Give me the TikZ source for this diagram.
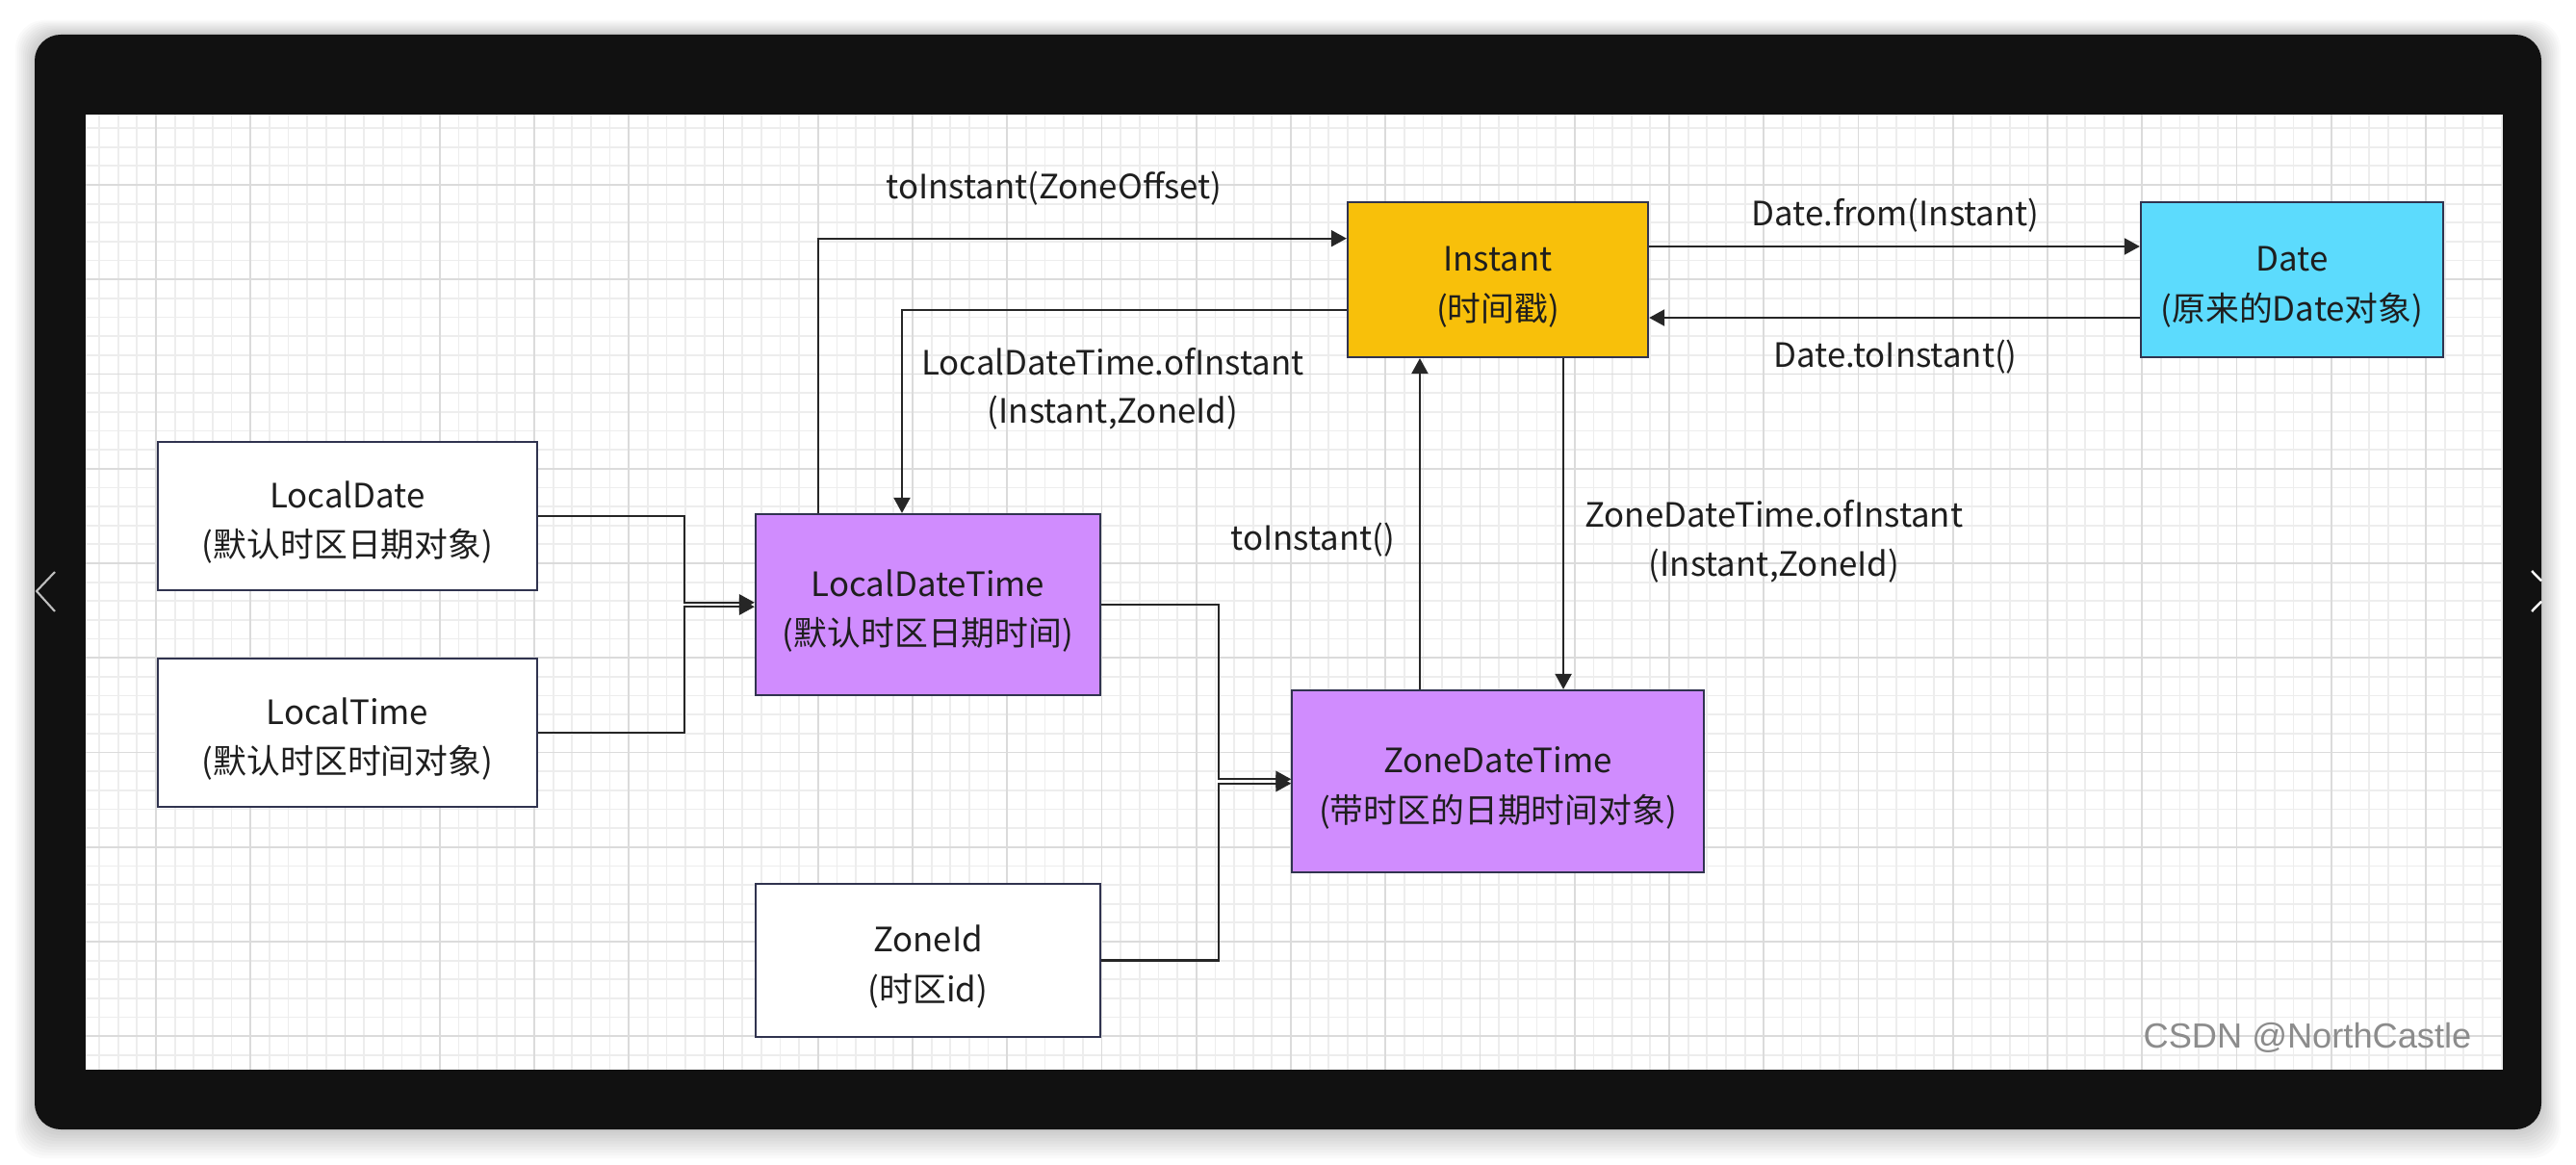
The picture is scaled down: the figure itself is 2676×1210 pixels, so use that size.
\documentclass[tikz,border=0pt]{standalone}
\usepackage{fontspec}
\usepackage{tikz}
\usetikzlibrary{arrows.meta}
\newfontfamily\cjk{Noto Sans CJK SC}
\newfontfamily\wmfont{Liberation Sans}
\definecolor{frameblack}{HTML}{111111}
\definecolor{boxline}{HTML}{30334F}
\definecolor{instfill}{HTML}{F8C00A}
\definecolor{datefill}{HTML}{5CDBFD}
\definecolor{ldtfill}{HTML}{D08CFE}
\definecolor{lineblack}{HTML}{262626}
\definecolor{textblack}{HTML}{1E1E1E}
\newcommand{\boxtop}{\rule{0pt}{11.6pt}}

\begin{document}
\begin{tikzpicture}[x=0.01cm, y=-0.01cm,
    box/.style={rectangle, draw=boxline, line width=0.6pt, fill=white, align=center, text=textblack, font=\cjk\fontsize{9.9}{14.6}\selectfont},
    lbl/.style={align=center, text=textblack, inner sep=0pt, font=\cjk\fontsize{9.9}{14.4}\selectfont},
    arr/.style={draw=lineblack, line width=0.6pt, -{Triangle[length=0.16cm, width=0.17cm]}},
    minorline/.style={black!7, line width=0.5pt},
    majorline/.style={black!14, line width=0.5pt}]
    \useasboundingbox (0,0) rectangle (2676,1210);
    \fill[white] (0,0) rectangle (2676,1210);
    % Frame and canvas
    \foreach \s in {1,...,10}
        \fill[black, opacity=0.02, rounded corners=0.3cm] ({36-2*\s},{36-1.5*\s}) rectangle ({2640+2*\s},{1173+3*\s});
    \fill[frameblack, rounded corners=0.27cm] (36,36) rectangle (2640,1173);
    \fill[white] (89,119) rectangle (2599,1111);
    \foreach \k in {-3,...,124}
        \draw[minorline] ({162+19.65*\k},119) -- ({162+19.65*\k},1111);
    \foreach \k in {-3,...,46}
        \draw[minorline] (89,{192+19.65*\k}) -- (2599,{192+19.65*\k});
    \foreach \k in {0,...,24}
        \draw[majorline] ({162+98.25*\k},119) -- ({162+98.25*\k},1111);
    \foreach \k in {0,...,9}
        \draw[majorline] (89,{192+98.25*\k}) -- (2599,{192+98.25*\k});
    \draw[gray!50, line width=0.6pt] (57,594) -- (38,614) -- (57,635);
    \draw[white, line width=0.7pt] (2630,593) -- (2640,603.3);
    \draw[white, line width=0.7pt] (2630,635) -- (2640,624.7);
    % Nodes
    \node[box, fill=instfill, minimum width=3.12cm, minimum height=1.61cm] (inst) at (1556,290.5) {\boxtop Instant\\(时间戳)};
    \node[box, fill=datefill, minimum width=3.14cm, minimum height=1.61cm] (date) at (2381,290.5) {\boxtop Date\\(原来的Date对象)};
    \node[box, minimum width=3.94cm, minimum height=1.54cm] (ld) at (361,536) {\boxtop LocalDate\\(默认时区日期对象)};
    \node[box, minimum width=3.94cm, minimum height=1.54cm] (lt) at (361,761) {\boxtop LocalTime\\(默认时区时间对象)};
    \node[box, fill=ldtfill, minimum width=3.58cm, minimum height=1.88cm] (ldt) at (964,628) {\boxtop LocalDateTime\\(默认时区日期时间)};
    \node[box, fill=ldtfill, minimum width=4.27cm, minimum height=1.89cm] (zdt) at (1556,811.5) {\boxtop ZoneDateTime\\(带时区的日期时间对象)};
    \node[box, minimum width=3.58cm, minimum height=1.59cm] (zid) at (964,997.5) {\boxtop ZoneId\\(时区id)};
    % Labels
    \node[lbl] (toinst1) at (1095,196) {toInstant(ZoneOffset)};
    \node[lbl] (ldtof) at (1156,404) {LocalDateTime.ofInstant\\(Instant,ZoneId)};
    \node[lbl] (datefrom) at (1969,224) {Date.from(Instant)};
    \node[lbl] (datetoinst) at (1969,371) {Date.toInstant()};
    \node[lbl] (toinst2) at (1364,561) {toInstant()};
    \node[lbl] (zdtof) at (1843,562.5) {ZoneDateTime.ofInstant\\(Instant,ZoneId)};
    \node[text=black!45, font=\wmfont\fontsize{10.3}{12}\selectfont] (wm) at (2397,1078) {CSDN @NorthCastle};
    % Edges
    \draw[arr] ([yshift=0.345cm]inst.east) -- ([yshift=0.345cm]date.west);
    \draw[arr] ([yshift=-0.395cm]date.west) -- ([yshift=-0.395cm]inst.east);
    \draw[arr] ([xshift=-1.14cm]ldt.north) |- ([yshift=0.428cm]inst.west);
    \draw[arr] ([yshift=-0.318cm]inst.west) -| ([xshift=-0.27cm]ldt.north);
    \draw[arr] ([xshift=-0.81cm]zdt.north) -- ([xshift=-0.81cm]inst.south);
    \draw[arr] ([xshift=0.68cm]inst.south) -- ([xshift=0.68cm]zdt.north);
    \draw[arr] (ld.east) -| ([xshift=-0.73cm, yshift=0.022cm]ldt.west) -- ([yshift=0.022cm]ldt.west);
    \draw[arr] (lt.east) -| ([xshift=-0.73cm, yshift=-0.022cm]ldt.west) -- ([yshift=-0.022cm]ldt.west);
    \draw[arr] (ldt.east) -| ([xshift=-0.75cm, yshift=0.022cm]zdt.west) -- ([yshift=0.022cm]zdt.west);
    \draw[arr] (zid.east) -| ([xshift=-0.75cm, yshift=-0.022cm]zdt.west) -- ([yshift=-0.022cm]zdt.west);
\end{tikzpicture}
\end{document}
